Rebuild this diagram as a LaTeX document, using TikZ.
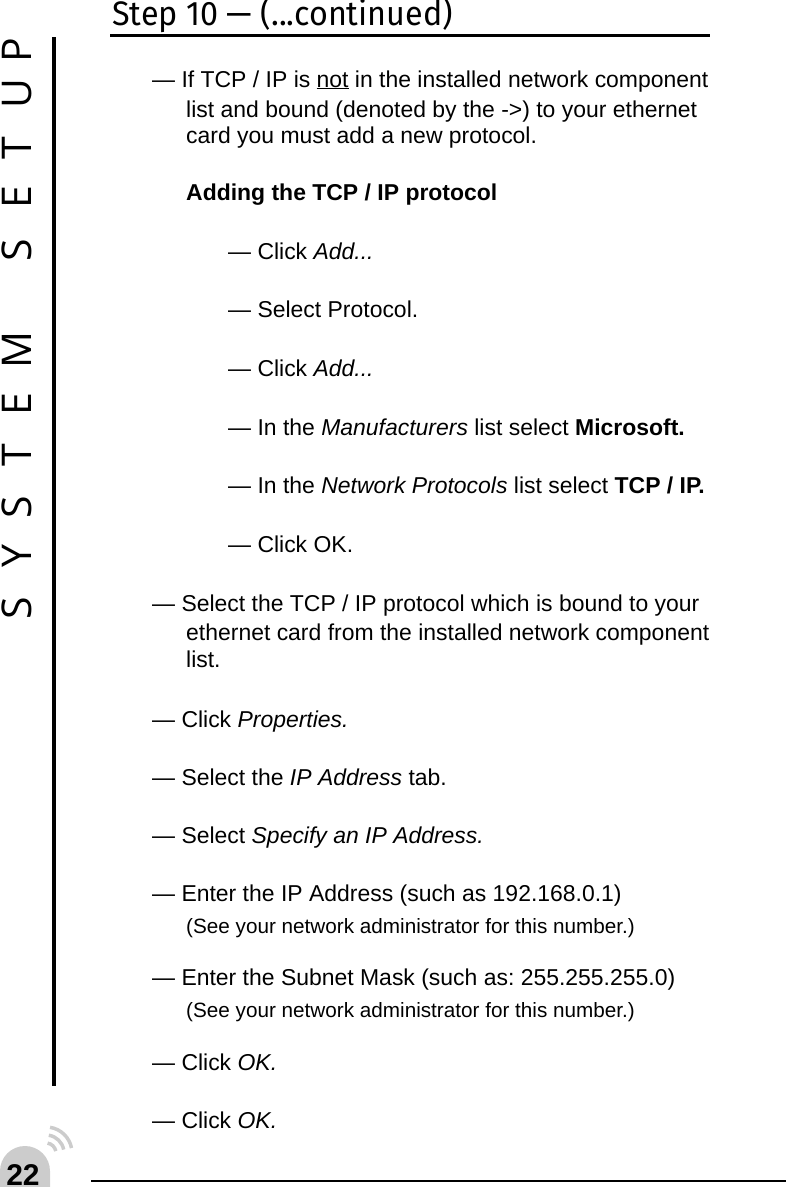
\documentclass[tikz,border=0pt]{standalone}
\usepackage{fontspec}
\setmainfont{Liberation Sans}
\newfontfamily\sidefont{Open Sans}
\newfontfamily\titlefont[FakeStretch=0.95]{Fira Sans}
\definecolor{badgegray}{gray}{0.8}
\tikzset{
    bodyline/.style={anchor=base west, inner sep=0pt, font=\fontsize{22.95}{26}\selectfont},
    noteline/.style={anchor=base west, inner sep=0pt, font=\fontsize{20.7}{24}\selectfont},
    sideletter/.style={anchor=center, inner sep=0pt, rotate=90, font=\sidefont\fontsize{41}{41}\selectfont},
    rule/.style={draw=black, solid},
    wave/.style={draw=badgegray, line width=3.5pt}
}
\begin{document}
\frenchspacing
\begin{tikzpicture}[x=1pt, y=-1pt]
            \useasboundingbox (0,0) rectangle (786,1187);
            \node[anchor=base west, inner sep=0pt, font=\titlefont\fontsize{34}{36}\selectfont] (title) at (112,25) {Step 10 — (...continued)};
            \draw[rule, line width=2.5pt] (110,35.5) -- (710,35.5);
            \draw[rule, line width=3.5pt] (54,37) -- (54,1086);
            \draw[rule, line width=2pt] (91,1180.5) -- (786,1180.5);

            \node[sideletter] (sideP) at (17,50) {P};
            \node[sideletter] (sideU) at (17,94) {U};
            \node[sideletter] (sideTa) at (17,148) {T};
            \node[sideletter] (sideEa) at (17,197) {E};
            \node[sideletter] (sideSa) at (17,250) {S};
            \node[sideletter] (sideM) at (17,350) {M};
            \node[sideletter] (sideEb) at (17,404) {E};
            \node[sideletter] (sideTb) at (17,455) {T};
            \node[sideletter] (sideSb) at (17,507) {S};
            \node[sideletter] (sideY) at (17,556.5) {Y};
            \node[sideletter] (sideSc) at (17,608) {S};

            \node[bodyline] (intro) at (152,87) {— If TCP / IP is \underline{not} in the installed network component};
            \node[bodyline] (introb) at (186,117) {list and bound (denoted by the -\kern0pt>) to your ethernet};
            \node[bodyline] (introc) at (186,143) {card you must add a new protocol.};
            \node[bodyline] (adding) at (186,200) {\bfseries Adding the TCP / IP protocol};
            \node[bodyline] (adda) at (228,259) {— Click \textit{Add...}};
            \node[bodyline] (protocol) at (228,317) {— Select Protocol.};
            \node[bodyline] (addb) at (228,376) {— Click \textit{Add...}};
            \node[bodyline] (manuf) at (228,435) {— In the \textit{Manufacturers} list select \textbf{Microsoft.}};
            \node[bodyline] (netprot) at (228,493) {— In the \textit{Network Protocols} list select \textbf{TCP / IP.}};
            \node[bodyline] (oka) at (228,552) {— Click OK.};
            \node[bodyline] (seltcp) at (152,611) {— Select the TCP / IP protocol which is bound to your};
            \node[bodyline] (seltcpb) at (186,640) {ethernet card from the installed network component};
            \node[bodyline] (seltcpc) at (186,667) {list.};
            \node[bodyline] (props) at (152,727) {— Click \textit{Properties.}};
            \node[bodyline] (iptab) at (152,785) {— Select the \textit{IP Address} tab.};
            \node[bodyline] (specify) at (152,843) {— Select \textit{Specify an IP Address.}};
            \node[bodyline] (enterip) at (152,901) {— Enter the IP Address (such as 192.168.0.1)};
            \node[noteline] (notea) at (186,933.5) {(See your network administrator for this number.)};
            \node[bodyline] (subnet) at (152,985) {— Enter the Subnet Mask (such as: 255.255.255.0)};
            \node[noteline] (noteb) at (186,1017) {(See your network administrator for this number.)};
            \node[bodyline] (okb) at (152,1070) {— Click \textit{OK.}};
            \node[bodyline] (okc) at (152,1128) {— Click \textit{OK.}};

            \fill[badgegray] (0,1187) -- (0,1171) arc (180:360:25) -- (50,1187) -- cycle;
            \draw[wave] (46,1153) ++(-81:26) arc (-81:-11:26);
            \draw[wave] (46,1153) ++(-81:18) arc (-81:-11:18);
            \draw[wave] (46,1153) ++(-81:10) arc (-81:-11:10);
            \node[anchor=base, inner sep=0pt, font=\fontsize{30}{30}\selectfont\bfseries] (pagenum) at (23,1185.5) {22};
        \end{tikzpicture}
\end{document}
